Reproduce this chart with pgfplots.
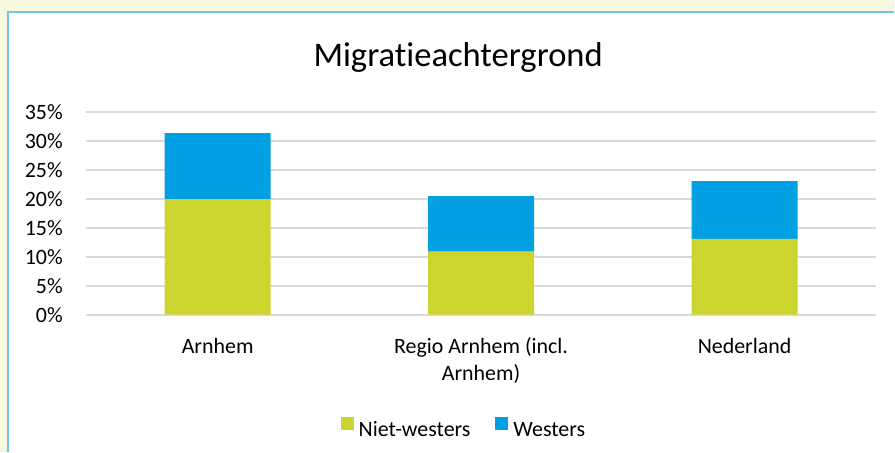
\documentclass[border=0pt]{standalone}
\usepackage{fontspec}
\setmainfont{Carlito}[Ligatures=NoCommon]
\usepackage{pgfplots}
\pgfplotsset{compat=1.18}
\definecolor{grn}{RGB}{203,213,46}
\definecolor{blu}{RGB}{0,160,227}
\definecolor{grd}{RGB}{217,217,217}
\definecolor{bg}{RGB}{248,248,225}
\definecolor{brd}{RGB}{110,197,232}
\begin{document}
\begin{tikzpicture}
\fill[bg] (0,0) rectangle (895bp,452bp);
\fill[white] (8bp,0) rectangle (895bp,440bp);
\draw[brd, line width=1.5bp] (8bp,0) -- (8bp,440bp) -- (895bp,440bp);
\node[anchor=base, font=\fontsize{34.7}{40}\selectfont, inner sep=0pt] at (458.5bp,385bp) {Migratieachtergrond};
\begin{axis}[
  at={(86bp,137bp)}, anchor=south west,
  scale only axis, width=791bp, height=202.7bp,
  xmin=-0.5, xmax=2.5, ymin=0, ymax=35,
  ybar stacked, bar width=106bp,
  axis line style={draw=none}, major tick length=0pt,
  xtick={0,1,2},
  xticklabels={Arnhem,{Regio Arnhem (incl.\\Arnhem)},Nederland},
  ytick={0,5,10,15,20,25,30,35},
  yticklabels={0\%,5\%,10\%,15\%,20\%,25\%,30\%,35\%},
  ymajorgrids, grid style={grd, line width=1.8bp},
  tick label style={font=\fontsize{22}{27}\selectfont, inner sep=0pt},
  xticklabel style={align=center, anchor=north, yshift=-23bp},
  yticklabel style={anchor=east, xshift=-23bp},
  legend style={at={(axis description cs:0.477,-0.557)}, anchor=center,
    draw=none, fill=none, legend columns=2,
    font=\fontsize{22}{27}\selectfont,
    nodes={inner sep=0pt},
    /tikz/every odd column/.style={column sep=5bp},
    /tikz/every even column/.style={column sep=25bp}},
  legend image code/.code={\fill[#1] (0bp,0bp) rectangle (13bp,13bp);},
]
\addplot[fill=grn, draw=none] coordinates {(0,20.0) (1,10.9) (2,13.1)};
\addplot[fill=blu, draw=none] coordinates {(0,11.4) (1,9.6) (2,10.0)};
\legend{Niet-westers,Westers}
\end{axis}
\end{tikzpicture}
\end{document}
